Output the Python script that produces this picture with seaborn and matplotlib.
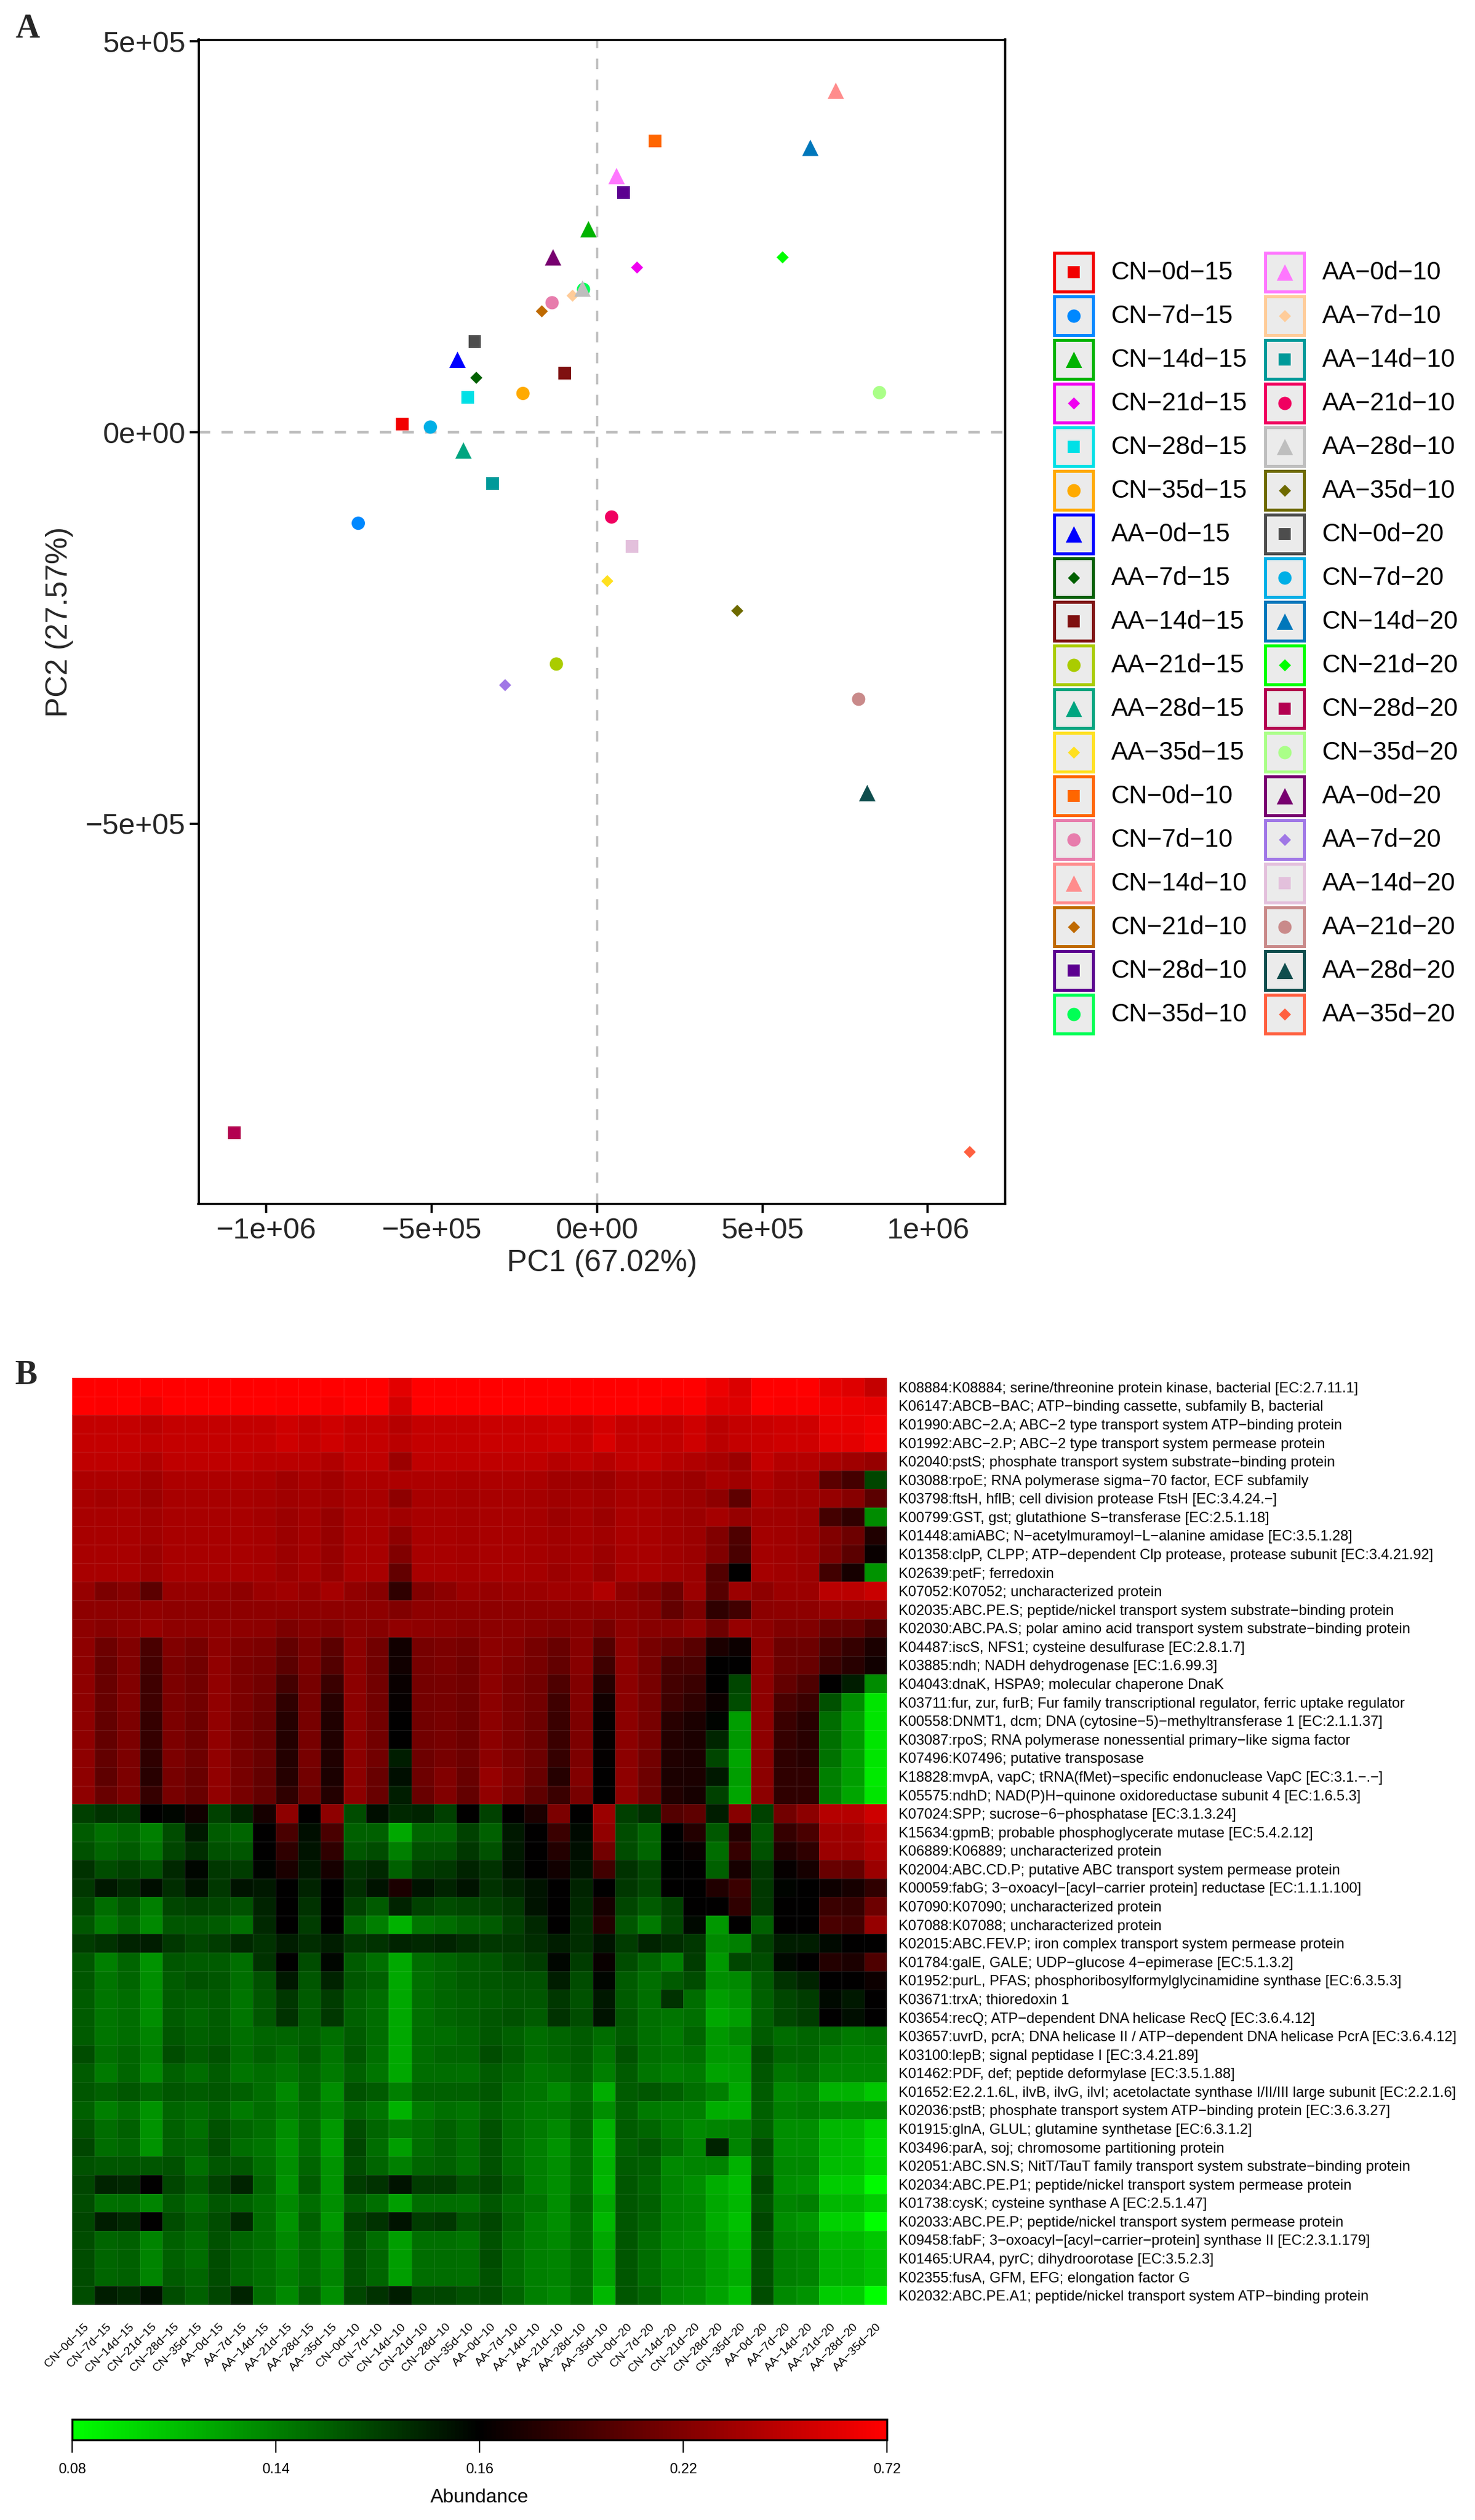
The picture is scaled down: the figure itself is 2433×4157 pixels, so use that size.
"""PCA of the samples (A) and KO abundance heatmap (B), two stacked panels."""

import matplotlib

matplotlib.use("Agg")
import matplotlib.pyplot as plt
import numpy as np
import pandas as pd
import seaborn as sns
from matplotlib.colors import LinearSegmentedColormap
from matplotlib.patches import Rectangle

WIDTH, HEIGHT = 2433, 4157
DPI = 100

samples = [
    "CN−0d−15", "CN−7d−15", "CN−14d−15", "CN−21d−15", "CN−28d−15", "CN−35d−15",
    "AA−0d−15", "AA−7d−15", "AA−14d−15", "AA−21d−15", "AA−28d−15", "AA−35d−15",
    "CN−0d−10", "CN−7d−10", "CN−14d−10", "CN−21d−10", "CN−28d−10", "CN−35d−10",
    "AA−0d−10", "AA−7d−10", "AA−14d−10", "AA−21d−10", "AA−28d−10", "AA−35d−10",
    "CN−0d−20", "CN−7d−20", "CN−14d−20", "CN−21d−20", "CN−28d−20", "CN−35d−20",
    "AA−0d−20", "AA−7d−20", "AA−14d−20", "AA−21d−20", "AA−28d−20", "AA−35d−20",
]
pc1 = [
    -589e3, -722e3, -26e3, 121e3, -391e3, -224e3,
    -422e3, -365e3, -97e3, -123e3, -404e3, 31e3,
    175e3, -136e3, 722e3, -167e3, 80e3, -41e3,
    59e3, -74e3, -316e3, 44e3, -44e3, 424e3,
    -370e3, -504e3, 645e3, 561e3, -1097e3, 854e3,
    -133e3, -278e3, 106e3, 791e3, 817e3, 1127e3,
]
pc2 = [
    11e3, -116e3, 260e3, 211e3, 45e3, 50e3,
    93e3, 70e3, 76e3, -296e3, -23e3, -190e3,
    373e3, 166e3, 437e3, 155e3, 307e3, 183e3,
    328e3, 175e3, -65e3, -108e3, 184e3, -228e3,
    116e3, 7e3, 364e3, 224e3, -895e3, 51e3,
    224e3, -323e3, -146e3, -341e3, -461e3, -920e3,
]
sample_colors = [
    "#F20000", "#0088FF", "#00B300", "#F000F0", "#00E0E6", "#FFAA00",
    "#0000FF", "#006000", "#7F1010", "#AACC00", "#00A580", "#FFE020",
    "#FF6600", "#E77CAC", "#FF8C8C", "#BF6A00", "#5C0090", "#00FF55",
    "#FF77FF", "#FFCC99", "#009999", "#F00060", "#BEBEBE", "#6E6A00",
    "#4D4D4D", "#00AFE6", "#0077BB", "#00FF00", "#B30050", "#AAFF88",
    "#780070", "#A077E6", "#E3C0DC", "#C98A8A", "#0F4D4D", "#FF6040",
]
shape_cycle = ["s", "o", "^", "D"]
shape_sizes = {"s": 226, "o": 250, "^": 378, "D": 104}

ko_labels = [
    "K08884:K08884; serine/threonine protein kinase, bacterial [EC:2.7.11.1]",
    "K06147:ABCB−BAC; ATP−binding cassette, subfamily B, bacterial",
    "K01990:ABC−2.A; ABC−2 type transport system ATP−binding protein",
    "K01992:ABC−2.P; ABC−2 type transport system permease protein",
    "K02040:pstS; phosphate transport system substrate−binding protein",
    "K03088:rpoE; RNA polymerase sigma−70 factor, ECF subfamily",
    "K03798:ftsH, hflB; cell division protease FtsH [EC:3.4.24.−]",
    "K00799:GST, gst; glutathione S−transferase [EC:2.5.1.18]",
    "K01448:amiABC; N−acetylmuramoyl−L−alanine amidase [EC:3.5.1.28]",
    "K01358:clpP, CLPP; ATP−dependent Clp protease, protease subunit [EC:3.4.21.92]",
    "K02639:petF; ferredoxin",
    "K07052:K07052; uncharacterized protein",
    "K02035:ABC.PE.S; peptide/nickel transport system substrate−binding protein",
    "K02030:ABC.PA.S; polar amino acid transport system substrate−binding protein",
    "K04487:iscS, NFS1; cysteine desulfurase [EC:2.8.1.7]",
    "K03885:ndh; NADH dehydrogenase [EC:1.6.99.3]",
    "K04043:dnaK, HSPA9; molecular chaperone DnaK",
    "K03711:fur, zur, furB; Fur family transcriptional regulator, ferric uptake regulator",
    "K00558:DNMT1, dcm; DNA (cytosine−5)−methyltransferase 1 [EC:2.1.1.37]",
    "K03087:rpoS; RNA polymerase nonessential primary−like sigma factor",
    "K07496:K07496; putative transposase",
    "K18828:mvpA, vapC; tRNA(fMet)−specific endonuclease VapC [EC:3.1.−.−]",
    "K05575:ndhD; NAD(P)H−quinone oxidoreductase subunit 4 [EC:1.6.5.3]",
    "K07024:SPP; sucrose−6−phosphatase [EC:3.1.3.24]",
    "K15634:gpmB; probable phosphoglycerate mutase [EC:5.4.2.12]",
    "K06889:K06889; uncharacterized protein",
    "K02004:ABC.CD.P; putative ABC transport system permease protein",
    "K00059:fabG; 3−oxoacyl−[acyl−carrier protein] reductase [EC:1.1.1.100]",
    "K07090:K07090; uncharacterized protein",
    "K07088:K07088; uncharacterized protein",
    "K02015:ABC.FEV.P; iron complex transport system permease protein",
    "K01784:galE, GALE; UDP−glucose 4−epimerase [EC:5.1.3.2]",
    "K01952:purL, PFAS; phosphoribosylformylglycinamidine synthase [EC:6.3.5.3]",
    "K03671:trxA; thioredoxin 1",
    "K03654:recQ; ATP−dependent DNA helicase RecQ [EC:3.6.4.12]",
    "K03657:uvrD, pcrA; DNA helicase II / ATP−dependent DNA helicase PcrA [EC:3.6.4.12]",
    "K03100:lepB; signal peptidase I [EC:3.4.21.89]",
    "K01462:PDF, def; peptide deformylase [EC:3.5.1.88]",
    "K01652:E2.2.1.6L, ilvB, ilvG, ilvI; acetolactate synthase I/II/III large subunit [EC:2.2.1.6]",
    "K02036:pstB; phosphate transport system ATP−binding protein [EC:3.6.3.27]",
    "K01915:glnA, GLUL; glutamine synthetase [EC:6.3.1.2]",
    "K03496:parA, soj; chromosome partitioning protein",
    "K02051:ABC.SN.S; NitT/TauT family transport system substrate−binding protein",
    "K02034:ABC.PE.P1; peptide/nickel transport system permease protein",
    "K01738:cysK; cysteine synthase A [EC:2.5.1.47]",
    "K02033:ABC.PE.P; peptide/nickel transport system permease protein",
    "K09458:fabF; 3−oxoacyl−[acyl−carrier−protein] synthase II [EC:2.3.1.179]",
    "K01465:URA4, pyrC; dihydroorotase [EC:3.5.2.3]",
    "K02355:fusA, GFM, EFG; elongation factor G",
    "K02032:ABC.PE.A1; peptide/nickel transport system ATP−binding protein",
]

# Position on the colour bar read per cell: +100 full red, 0 black, -100 full green.
heat_levels = [
    [100, 100, 100, 100, 100, 100, 100, 100, 100, 100, 100, 100, 100, 100, 88, 100, 100, 100, 100, 100, 100, 100, 100, 100, 100, 100, 100, 100, 92, 85, 100, 100, 100, 90, 86, 76],
    [100, 98, 100, 93, 100, 100, 100, 100, 100, 98, 100, 96, 100, 100, 82, 100, 100, 100, 100, 100, 99, 98, 99, 99, 100, 100, 95, 97, 88, 86, 100, 97, 97, 94, 92, 90],
    [76, 76, 76, 72, 76, 76, 76, 76, 76, 80, 76, 80, 76, 76, 70, 76, 76, 76, 78, 78, 78, 80, 76, 82, 76, 76, 75, 80, 72, 76, 78, 80, 80, 90, 90, 94],
    [76, 76, 76, 74, 76, 76, 76, 76, 76, 80, 76, 80, 76, 76, 72, 76, 76, 76, 78, 78, 78, 80, 76, 84, 76, 76, 75, 80, 72, 76, 78, 80, 80, 88, 88, 94],
    [74, 74, 74, 68, 74, 74, 74, 74, 72, 72, 72, 68, 74, 74, 60, 74, 74, 74, 74, 74, 74, 70, 74, 70, 75, 76, 71, 68, 65, 60, 76, 70, 70, 66, 62, 58],
    [67, 67, 67, 62, 67, 67, 67, 67, 66, 62, 66, 62, 67, 67, 67, 67, 67, 66, 67, 67, 66, 62, 62, 60, 65, 65, 62, 60, 65, 62, 68, 63, 62, 35, 26, -28],
    [65, 63, 65, 60, 65, 65, 65, 65, 64, 62, 64, 62, 65, 65, 55, 65, 65, 64, 65, 65, 64, 62, 64, 62, 65, 65, 62, 60, 55, 36, 65, 62, 62, 58, 52, 35],
    [65, 65, 65, 62, 65, 65, 65, 65, 63, 60, 64, 58, 65, 65, 62, 65, 65, 64, 65, 65, 64, 60, 64, 60, 66, 65, 62, 60, 64, 58, 62, 62, 60, 26, 18, -55],
    [65, 65, 65, 62, 65, 65, 65, 65, 64, 60, 64, 58, 65, 65, 55, 65, 65, 64, 65, 65, 64, 62, 64, 62, 66, 65, 62, 60, 50, 30, 63, 62, 60, 50, 42, 12],
    [65, 65, 65, 60, 65, 65, 65, 65, 64, 60, 64, 58, 65, 65, 50, 65, 65, 64, 65, 65, 64, 62, 64, 60, 65, 65, 62, 60, 50, 28, 63, 62, 60, 48, 35, 3],
    [65, 65, 65, 60, 65, 65, 65, 65, 64, 60, 64, 58, 65, 65, 38, 65, 65, 64, 65, 65, 64, 60, 64, 58, 65, 65, 62, 60, 32, 0, 64, 62, 60, 25, 8, -58],
    [58, 48, 52, 35, 58, 58, 58, 55, 60, 62, 58, 64, 56, 52, 18, 50, 54, 60, 58, 60, 60, 62, 62, 68, 55, 50, 42, 60, 33, 60, 55, 60, 60, 72, 72, 78],
    [55, 55, 55, 56, 55, 55, 55, 55, 55, 55, 55, 55, 55, 55, 50, 55, 55, 55, 55, 55, 55, 55, 55, 55, 55, 52, 38, 48, 18, 25, 54, 55, 55, 58, 56, 56],
    [55, 52, 55, 58, 55, 55, 56, 55, 54, 48, 52, 50, 54, 52, 56, 55, 54, 52, 54, 54, 52, 50, 53, 46, 55, 52, 52, 56, 42, 58, 55, 50, 50, 40, 38, 28],
    [55, 42, 50, 28, 50, 46, 55, 50, 48, 38, 48, 35, 54, 44, 6, 46, 48, 46, 54, 52, 46, 40, 52, 32, 55, 46, 40, 34, 10, 4, 55, 42, 42, 28, 20, 10],
    [55, 40, 50, 26, 48, 44, 56, 48, 46, 35, 48, 32, 54, 44, 6, 46, 48, 44, 54, 50, 46, 38, 52, 24, 55, 46, 28, 28, 0, 0, 55, 42, 40, 22, 16, 6],
    [55, 40, 50, 24, 48, 44, 56, 48, 44, 26, 46, 22, 54, 44, 3, 45, 46, 44, 54, 48, 44, 30, 50, 15, 54, 46, 26, 22, 0, -28, 55, 38, 30, 0, -12, -55],
    [55, 40, 50, 24, 48, 44, 56, 48, 42, 18, 46, 16, 54, 44, 2, 45, 46, 43, 54, 48, 44, 24, 50, 6, 54, 46, 24, 18, 4, -30, 55, 28, 22, -32, -55, -90],
    [55, 38, 48, 20, 48, 42, 56, 46, 40, 15, 46, 12, 54, 44, 0, 44, 46, 42, 54, 48, 42, 22, 48, 2, 54, 46, 16, 10, -2, -62, 55, 22, 16, -42, -62, -90],
    [55, 38, 48, 20, 48, 42, 56, 46, 40, 14, 46, 12, 54, 44, 0, 44, 46, 42, 54, 48, 42, 22, 48, 2, 54, 46, 14, 10, -15, -60, 55, 20, 16, -44, -60, -90],
    [55, 38, 48, 18, 48, 42, 56, 46, 40, 14, 46, 12, 54, 44, -12, 42, 46, 42, 54, 48, 42, 20, 48, 1, 54, 44, 12, 10, -28, -65, 54, 18, 16, -45, -62, -90],
    [55, 36, 48, 16, 46, 40, 56, 46, 38, 15, 44, 10, 54, 40, -6, 42, 50, 40, 58, 50, 40, 15, 50, 0, 55, 42, 10, 10, -10, -62, 54, 18, 18, -50, -62, -92],
    [55, 40, 48, 20, 46, 40, 56, 46, 38, 18, 42, 14, 54, 40, -12, 40, 50, 38, 56, 48, 36, 22, 46, 0, 55, 42, 12, 8, -26, -65, 54, 18, 18, -50, -65, -90],
    [-25, -20, -22, 0, -3, 6, -26, -14, 8, 55, 0, 55, -30, -6, -16, -14, -25, 0, -26, 0, 10, 48, 0, 60, -25, -18, 32, 36, -12, 52, -26, 44, 54, 70, 70, 80],
    [-36, -44, -40, -50, -30, -10, -36, -40, 0, 28, -6, 28, -38, -38, -66, -40, -40, -26, -38, -10, 0, 22, -4, 56, -30, -40, 0, 14, -35, 12, -34, 20, 28, 62, 62, 70],
    [-32, -40, -36, -46, -28, -18, -32, -34, 0, 18, -8, 18, -34, -30, -50, -32, -32, -22, -32, -10, 0, 14, -6, 44, -30, -40, 0, 3, -42, 20, -32, 12, 18, 60, 60, 68],
    [-20, -30, -26, -32, -16, -3, -22, -24, -2, 10, -10, 8, -20, -16, -38, -24, -22, -14, -20, -8, 0, 6, -8, 25, -20, -28, -1, 0, -38, 8, -22, 2, 8, 40, 38, 60],
    [-22, -10, -16, -6, -18, -8, -22, -8, -10, 0, -14, 0, -18, -8, 10, -8, -14, -8, -20, -14, -8, 0, -14, 0, -22, -28, 0, 0, 12, 22, -22, -2, 0, 5, 8, 18],
    [-28, -42, -34, -50, -28, -26, -28, -32, -14, 0, -20, 0, -26, -36, -14, -26, -30, -28, -26, -22, -8, 0, -16, 8, -28, -36, -26, 0, 0, 18, -22, 0, 0, 22, 20, 42],
    [-34, -48, -40, -54, -34, -34, -36, -44, -16, 0, -24, 0, -40, -50, -70, -46, -42, -38, -36, -26, -16, 0, -18, 14, -34, -48, -28, -4, -60, 0, -38, 0, 0, 28, 25, 58],
    [-24, -20, -14, -12, -22, -28, -24, -16, -20, -12, -18, -12, -22, -20, -14, -16, -14, -18, -22, -22, -18, -12, -18, -8, -24, -14, -18, -22, -54, -50, -26, -12, -12, -4, 0, 0],
    [-34, -50, -40, -58, -34, -36, -36, -44, -20, 0, -30, -3, -36, -44, -66, -42, -40, -36, -34, -28, -24, -3, -24, 3, -30, -40, -50, -24, -60, -28, -30, -4, 0, 14, 10, 30],
    [-34, -46, -40, -56, -36, -32, -34, -44, -32, -10, -34, -14, -34, -38, -66, -44, -40, -36, -34, -32, -32, -12, -30, -3, -36, -44, -36, -30, -56, -54, -36, -20, -14, 0, 0, 4],
    [-36, -46, -42, -56, -36, -38, -36, -46, -34, -22, -36, -24, -38, -42, -66, -44, -40, -38, -36, -34, -34, -22, -32, -10, -36, -44, -20, -42, -62, -58, -38, -28, -24, -4, -10, 0],
    [-36, -46, -42, -56, -36, -40, -36, -46, -34, -20, -36, -22, -38, -42, -66, -44, -40, -38, -34, -32, -36, -20, -30, -8, -34, -44, -46, -44, -66, -62, -38, -28, -24, 0, -6, 0],
    [-36, -46, -42, -52, -34, -38, -36, -44, -40, -40, -38, -44, -36, -42, -66, -42, -42, -40, -34, -38, -42, -40, -36, -42, -36, -44, -48, -40, -60, -54, -36, -42, -40, -42, -48, -46],
    [-30, -44, -40, -50, -30, -36, -32, -42, -38, -42, -36, -46, -34, -44, -66, -42, -40, -40, -30, -36, -42, -40, -36, -46, -32, -44, -46, -44, -60, -60, -30, -40, -40, -48, -50, -50],
    [-36, -48, -40, -54, -38, -42, -36, -46, -42, -46, -40, -48, -38, -46, -66, -42, -42, -44, -36, -40, -46, -44, -38, -50, -36, -46, -50, -48, -64, -62, -34, -46, -42, -52, -52, -52],
    [-34, -38, -34, -40, -34, -36, -34, -38, -42, -54, -40, -56, -32, -36, -50, -38, -38, -38, -34, -42, -46, -54, -42, -68, -36, -34, -38, -44, -50, -66, -36, -54, -52, -70, -70, -78],
    [-38, -50, -44, -58, -40, -42, -38, -48, -42, -50, -42, -52, -40, -46, -70, -48, -44, -46, -38, -44, -48, -48, -40, -56, -38, -48, -50, -50, -68, -68, -38, -50, -48, -54, -56, -56],
    [-32, -42, -38, -58, -38, -44, -32, -40, -44, -56, -42, -60, -30, -40, -48, -42, -38, -44, -32, -42, -48, -54, -40, -70, -36, -40, -48, -54, -52, -50, -38, -56, -56, -72, -72, -82],
    [-28, -42, -40, -58, -38, -40, -30, -42, -46, -58, -42, -62, -28, -42, -62, -42, -38, -44, -32, -44, -50, -58, -42, -72, -38, -34, -44, -52, -14, -52, -30, -56, -56, -72, -74, -86],
    [-32, -34, -34, -34, -32, -44, -34, -34, -44, -56, -40, -58, -30, -40, -50, -40, -38, -44, -32, -42, -50, -56, -42, -70, -36, -38, -54, -52, -52, -70, -34, -54, -54, -74, -74, -84],
    [-28, -14, -16, 0, -28, -36, -26, -14, -40, -58, -36, -58, -24, -20, -8, -24, -24, -32, -28, -38, -50, -56, -42, -72, -34, -40, -52, -56, -68, -74, -28, -56, -58, -80, -80, -98],
    [-30, -44, -42, -52, -36, -42, -34, -38, -44, -54, -42, -56, -36, -44, -62, -42, -42, -44, -34, -42, -46, -56, -40, -66, -34, -38, -52, -54, -66, -72, -32, -52, -50, -72, -72, -80],
    [-28, -12, -16, 0, -30, -38, -30, -16, -42, -58, -38, -60, -26, -20, -8, -24, -22, -34, -28, -40, -50, -56, -42, -72, -34, -40, -52, -54, -68, -76, -28, -56, -60, -82, -82, -100],
    [-30, -40, -38, -52, -38, -42, -32, -40, -44, -54, -42, -54, -32, -42, -62, -44, -44, -46, -32, -44, -50, -54, -42, -66, -34, -42, -54, -56, -64, -72, -32, -52, -54, -72, -72, -78],
    [-30, -40, -38, -52, -38, -42, -30, -40, -44, -52, -42, -54, -32, -40, -62, -42, -42, -44, -30, -42, -50, -52, -42, -64, -34, -42, -54, -54, -62, -70, -32, -50, -52, -70, -70, -76],
    [-30, -40, -38, -52, -36, -40, -30, -40, -44, -50, -42, -52, -32, -40, -62, -42, -42, -44, -32, -42, -50, -52, -42, -64, -34, -42, -52, -54, -62, -68, -32, -50, -52, -70, -70, -76],
    [-30, -12, -16, -6, -30, -38, -28, -14, -42, -54, -38, -56, -28, -20, -12, -28, -28, -32, -30, -40, -50, -54, -42, -72, -34, -40, -54, -56, -64, -74, -30, -54, -58, -80, -80, -100],
]
cbar_positions = [-100, -50, 0, 50, 100]
cbar_labels = ["0.08", "0.14", "0.16", "0.22", "0.72"]

pc1_ticks = [-1e6, -5e5, 0, 5e5, 1e6]
pc1_ticklabels = ["−1e+06", "−5e+05", "0e+00", "5e+05", "1e+06"]
pc2_ticks = [-5e5, 0, 5e5]
pc2_ticklabels = ["−5e+05", "0e+00", "5e+05"]

sns.set_theme(style="white")
plt.rcParams["font.family"] = ["Liberation Sans", "DejaVu Sans"]


def px_rect(left, top, right, bottom):
    """Axes rectangle from reference pixel edges."""
    return [left / WIDTH, 1 - bottom / HEIGHT, (right - left) / WIDTH, (bottom - top) / HEIGHT]


fig = plt.figure(figsize=(WIDTH / DPI, HEIGHT / DPI), dpi=DPI, facecolor="white")

# Panel A: PCA scatter
pca_df = pd.DataFrame({"sample": samples, "PC1": pc1, "PC2": pc2})
pca_df["shape"] = [shape_cycle[i % 4] for i in range(len(samples))]

ax = fig.add_axes(px_rect(327.5, 65.5, 1658, 1985.5))
ax.axhline(0, color="#BEBEBE", lw=3.2, ls=(0, (4.2, 4.2)), zorder=1)
ax.axvline(0, color="#BEBEBE", lw=2.6, ls=(0, (4.8, 4.8)), zorder=1)
sns.scatterplot(
    data=pca_df,
    x="PC1",
    y="PC2",
    hue="sample",
    palette=dict(zip(samples, sample_colors)),
    style="shape",
    markers={m: m for m in shape_cycle},
    size="shape",
    sizes=shape_sizes,
    linewidth=0,
    legend=False,
    zorder=3,
    ax=ax,
)
ax.set_xlim(-1.205e6, 1.234e6)
ax.set_ylim(-9.86e5, 5.023e5)
ax.set_xticks(pc1_ticks, pc1_ticklabels)
ax.set_yticks(pc2_ticks, pc2_ticklabels)
ax.tick_params(axis="both", labelsize=35, length=11, width=2.6, color="black", pad=5, left=True, bottom=True)
ax.set_xlabel("PC1 (67.02%)", fontsize=36, labelpad=6)
ax.set_ylabel("PC2 (27.57%)", fontsize=36, labelpad=14)
for spine in ax.spines.values():
    spine.set_color("black")
    spine.set_linewidth(2.6)

# Legend of panel A, two columns of boxed keys, in pixel coordinates of the page
overlay = fig.add_axes([0, 0, 1, 1], facecolor="none")
overlay.set_xlim(0, WIDTH)
overlay.set_ylim(HEIGHT, 0)
overlay.axis("off")
for i, (name, color) in enumerate(zip(samples, sample_colors)):
    col, row = divmod(i, 18)
    key_x = 1739 + col * 347.5
    key_y = 417 + row * 72
    overlay.add_patch(Rectangle((key_x, key_y), 64, 64, facecolor="#EBEBEB", edgecolor=color, lw=3.6))
    shape = shape_cycle[i % 4]
    overlay.scatter(key_x + 32, key_y + 32, marker=shape, s=shape_sizes[shape], color=color, linewidths=0, zorder=3)
    overlay.text(key_x + 94, key_y + 33, name, fontsize=30, va="center", ha="left", color="black")

overlay.text(26, 62, "A", fontsize=40, fontweight="bold", family="Liberation Serif", va="baseline")
overlay.text(24, 2283, "B", fontsize=40, fontweight="bold", family="Liberation Serif", va="baseline")

# Panel B: heatmap with horizontal colour bar
heat_df = pd.DataFrame(np.array(heat_levels), index=ko_labels, columns=samples)
green_black_red = LinearSegmentedColormap.from_list("gbr", ["#00FF00", "#000000", "#FF0000"], N=200)

hax = fig.add_axes(px_rect(118.6, 2273, 1463, 3802))
cax = fig.add_axes(px_rect(118.6, 3991, 1463, 4025))
sns.heatmap(
    heat_df,
    cmap=green_black_red,
    vmin=-100,
    vmax=100,
    linewidths=0.7,
    linecolor=(1, 1, 1, 0.1),
    xticklabels=True,
    yticklabels=True,
    ax=hax,
    cbar_ax=cax,
    cbar_kws={"orientation": "horizontal", "ticks": cbar_positions},
)
hax.yaxis.tick_right()
hax.tick_params(axis="y", length=0, pad=14, labelsize=17.2, labelrotation=0, labelcolor="black")
hax.tick_params(axis="x", length=0, pad=20, labelsize=14, labelcolor="black")
plt.setp(hax.get_xticklabels(), rotation=45, ha="right", va="top", rotation_mode="anchor")

cbar = hax.collections[0].colorbar
cbar.outline.set_edgecolor("black")
cbar.outline.set_linewidth(2.4)
cbar.set_ticklabels(cbar_labels)
cax.tick_params(axis="x", length=15, width=1.6, color="black", pad=12, labelsize=17, labelcolor="black", bottom=True)
cax.set_xlabel("Abundance", fontsize=23, labelpad=15, color="black")

fig.savefig("out.png", dpi=DPI, facecolor="white")
plt.close(fig)
